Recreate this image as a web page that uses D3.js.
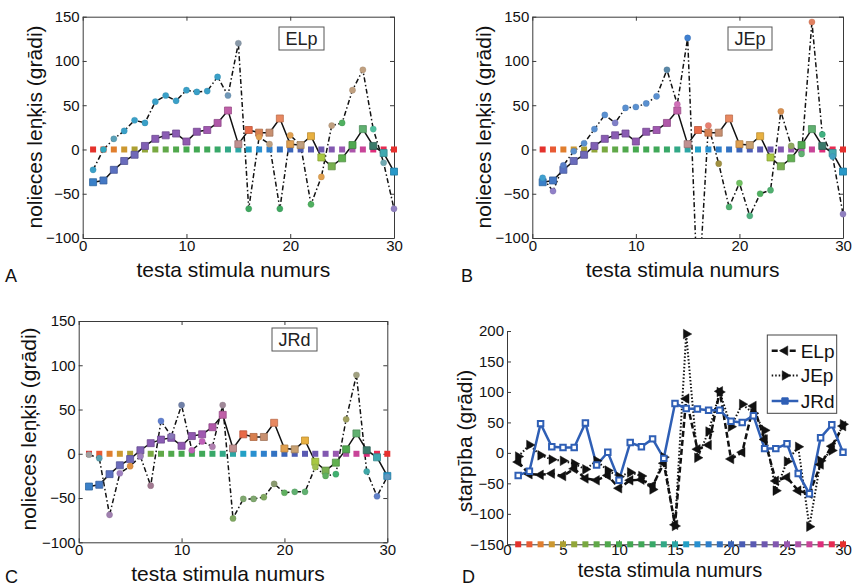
<!DOCTYPE html>
<html>
<head>
<meta charset="utf-8">
<script src="https://cdn.jsdelivr.net/npm/d3@7"></script>
<style>
  body { margin: 0; background: #fff; }
  svg { display: block; }
  text { font-family: "Liberation Sans", Arial, Helvetica, sans-serif; }
</style>
</head>
<body>
<svg></svg>
<script>
// stimulus numbers 1..30
const stimuli = [1,2,3,4,5,6,7,8,9,10,11,12,13,14,15,16,17,18,19,20,21,22,23,24,25,26,27,28,29,30];

// colour strip drawn along the zero / bottom line
const stripColors = ["#e4322c","#e85a34","#e07e2e","#cc9830","#aca032","#92a63a","#78a840","#60a848","#50a84c","#46a84e",
  "#42a852","#40a858","#38a868","#32a886","#2ca6a4","#22a0c6","#2890d0","#2e80cc","#3272c2","#3a64b8",
  "#4a5cb4","#5a5ab2","#6e58b0","#8258b0","#9858b0","#ac54aa","#c84498","#de2c7a","#e62c52","#e6302e"];

// reference angles (solid line, squares) - same in A, B, C
const refValues = [-37,-35,-23,-13,-6,4,12,16,18,9,20,22,30,44,6,22,19,19,35,6,5,15,-9,-19,-10,5,23,4,-4,-25];
const refColors = ["#3a80c8","#4478c4","#5a70c0","#6a6cbc","#7068b8","#8060b4","#8a5cb4","#8a5cb4","#8a5cb4","#9058b0",
  "#9058b0","#a058b0","#b058a8","#c060a8","#c09090","#e86a48","#d88050","#c89070","#e88860","#e0a050",
  "#c8a070","#e8b040","#a8c840","#78b050","#60b050","#50a850","#60b070","#3a7a6a","#40a8b0","#2898c8"];

// subject answers (dash-dot line, circles)
const elpValues = [-23,0,12,21,33,30,54,61,55,67,65,66,82,61,120,-67,14,6,-67,16,5,-62,-31,27,30,67,90,23,-15,-67];
const elpColors = ["#3aa0c8","#30a8c0","#5aa0b8","#3aa0c8","#3aa0c8","#3aa0c8","#3aa0c8","#3aa0c8","#3aa0c8","#3aa0c8",
  "#3aa0c8","#3aa0c8","#3aa0c8","#7098b8","#8898a8","#40a860","#e0a050","#c0a080","#40a860","#e0a050",
  "#c0a080","#50b060","#e0a050","#c0a080","#50b060","#c0a080","#c0a080","#50c0a0","#70a8b0","#9080c0"];

const jepValues = [-32,-47,-18,-2,7,23,39,30,47,48,52,60,90,51,126,-173,27,-16,-65,-38,-75,-50,-46,43,4,-5,144,17,-8,-73];
const jepColors = ["#40a0d0","#9080c8","#5a80c8","#5a90d0","#5a90d0","#5a90d0","#5a90d0","#8080c8","#5a90d0","#5a90d0",
  "#5a90d0","#5a90d0","#5a88a8","#d070b8","#4080d0","#50b070","#e88070","#a09040","#50b070","#70c060",
  "#50b080","#50b060","#50b070","#d89050","#90a860","#60b070","#e08060","#40b080","#40a0c0","#9080c0"];

const jrdValues = [-1,-5,-69,-22,-14,-3,-36,37,20,55,4,14,8,55,-73,-51,-51,-49,-34,-44,-43,-43,-15,-25,-23,39,89,-20,-48,-26];
const jrdColors = ["#a0a0a0","#5aa0b0","#a080b0","#a080c0","#e09040","#a080c0","#a07890","#6080d0","#8878b8","#7080a8",
  "#c060b8","#c060b8","#b080b0","#a08898","#80a860","#80a870","#80a870","#80a860","#8a9a70","#60b060",
  "#60b070","#60b070","#a0c050","#60b060","#40b070","#a0a060","#a0a080","#40a8a8","#6080c8","#6098c0"];

// panel D: differences (starpība)
const diffELp = [-15,-35,-36,-34,-38,-26,-42,-45,-37,-58,-45,-44,-54,-17,-118,89,6,13,101,-10,1,77,22,-46,-40,-62,-67,-19,11,44];
const diffJEp = [-6,13,-4,-11,-13,-18,-27,-13,-29,-39,-32,-38,-60,-7,-120,195,-8,35,100,43,80,65,37,-62,-14,10,-121,-13,4,47];
const diffJRd = [-37,-30,48,10,9,9,49,-20,1,-45,17,10,23,-9,81,73,72,70,70,52,50,61,7,7,15,-34,-67,25,46,1];

const svg = d3.select("svg").attr("width", 855).attr("height", 587);
svg.append("rect").attr("width", 855).attr("height", 587).attr("fill", "#fff");
const defs = svg.append("defs");

const axisColor = "#3a3a3a";

function makePanel(p) {
  const x = d3.scaleLinear().domain([0, 30]).range([p.left, p.right]);
  const y = d3.scaleLinear().domain(p.yDomain).range([p.bottom, p.top]);

  defs.append("clipPath").attr("id", "clip" + p.id).append("rect")
    .attr("x", p.left).attr("y", p.top).attr("width", p.right - p.left).attr("height", p.bottom - p.top);
  defs.append("clipPath").attr("id", "mclip" + p.id).append("rect")
    .attr("x", p.left - 6).attr("y", p.top - 6).attr("width", p.right - p.left + 12).attr("height", p.bottom - p.top + 12);

  const style = g => {
    g.select(".domain").attr("stroke", axisColor);
    g.selectAll(".tick line").attr("stroke", axisColor);
    g.selectAll("text").attr("font-size", 15).attr("fill", "#111")
      .attr("font-family", "'Liberation Sans', Arial, Helvetica, sans-serif");
  };

  svg.append("g").attr("transform", `translate(0,${p.bottom})`)
    .call(d3.axisBottom(x).tickValues(p.xTicks).tickSize(-4).tickSizeOuter(0).tickPadding(p.xPad))
    .call(style);
  svg.append("g").attr("transform", `translate(${p.left},0)`)
    .call(d3.axisLeft(y).tickValues(p.yTicks).tickSize(-4).tickSizeOuter(0).tickPadding(3))
    .call(style);

  if (p.box) {
    svg.append("g").attr("transform", `translate(0,${p.top})`)
      .call(d3.axisTop(x).tickValues(p.xTicks).tickSize(-4).tickSizeOuter(0).tickFormat(""))
      .call(style);
    svg.append("g").attr("transform", `translate(${p.right},0)`)
      .call(d3.axisRight(y).tickValues(p.yTicks).tickSize(-4).tickSizeOuter(0).tickFormat(""))
      .call(style);
  }

  // axis titles
  svg.append("text")
    .attr("x", (p.left + p.right) / 2 - 5)
    .attr("y", p.bottom + p.xLabelDy)
    .attr("text-anchor", "middle")
    .attr("font-size", p.xLabelSize)
    .attr("fill", "#111")
    .text("testa stimula numurs");

  svg.append("text")
    .attr("transform", `translate(${p.left - p.yLabelDx},${p.yLabelY}) rotate(-90)`)
    .attr("text-anchor", "middle")
    .attr("font-size", 21)
    .attr("fill", "#111")
    .text(p.yLabel);

  // panel letter
  svg.append("text")
    .attr("x", p.letterX).attr("y", p.letterY)
    .attr("font-family", "'Liberation Serif', 'Times New Roman', serif")
    .attr("font-size", 18)
    .attr("fill", "#111")
    .text(p.id);

  const lines = svg.append("g").attr("clip-path", `url(#clip${p.id})`);
  const marks = svg.append("g").attr("clip-path", `url(#mclip${p.id})`);
  return { x, y, lines, marks };
}

function strip(panel, yValue) {
  panel.marks.selectAll(null)
    .data(stimuli)
    .enter().append("rect")
    .attr("x", d => panel.x(d) - 3)
    .attr("y", panel.y(yValue) - 3)
    .attr("width", 6).attr("height", 6)
    .attr("fill", (d, i) => stripColors[i]);
}

function drawSeries(panel, values, colors, opts) {
  const pts = stimuli.map((s, i) => ({ s, v: values[i], c: colors ? colors[i] : opts.color }));
  const line = d3.line().x(d => panel.x(d.s)).y(d => panel.y(d.v));
  panel.lines.append("path")
    .datum(pts)
    .attr("d", line)
    .attr("fill", "none")
    .attr("stroke", opts.stroke)
    .attr("stroke-width", opts.width)
    .attr("stroke-dasharray", opts.dash || null);

  const sym = d3.symbol().type(opts.symbol).size(opts.size);
  panel.marks.selectAll(null)
    .data(pts)
    .enter().append("path")
    .attr("d", sym)
    .attr("transform", d => `translate(${panel.x(d.s)},${panel.y(d.v)}) rotate(${opts.rotate || 0})`)
    .attr("fill", d => opts.fill || d.c)
    .attr("stroke", d => opts.edge || d3.color(d.c).darker(0.6))
    .attr("stroke-width", opts.edgeWidth || 0.6);
}

function nameBox(x, y, w, h, label) {
  svg.append("rect").attr("x", x).attr("y", y).attr("width", w).attr("height", h)
    .attr("fill", "#fff").attr("stroke", "#555").attr("stroke-width", 1);
  svg.append("text").attr("x", x + w / 2).attr("y", y + h / 2).attr("dy", "0.35em")
    .attr("text-anchor", "middle")
    .attr("font-family", "'Liberation Serif', 'Times New Roman', serif")
    .attr("font-size", 18).attr("fill", "#222")
    .text(label);
}

const angleTicks = [-100, -50, 0, 50, 100, 150];
const tenTicks = [0, 10, 20, 30];

const panelDefs = [
  { id: "A", left: 82.7, right: 394, top: 16.7, bottom: 238, values: elpValues, colors: elpColors, name: "ELp",
    box: [279, 27, 45, 23], letterX: 5, letterY: 282, yLabelY: 127, yLabelDx: 41 },
  { id: "B", left: 532.3, right: 843, top: 16.7, bottom: 238, values: jepValues, colors: jepColors, name: "JEp",
    box: [728, 27, 44, 23], letterX: 461, letterY: 282, yLabelY: 127, yLabelDx: 41 },
  { id: "C", left: 78.7, right: 387.3, top: 321, bottom: 542.3, values: jrdValues, colors: jrdColors, name: "JRd",
    box: [272, 328, 45, 23], letterX: 5, letterY: 583, yLabelY: 429, yLabelDx: 42.5 }
];

const dashDot = "5,2.5,1.5,2.5";

panelDefs.forEach(p => {
  const panel = makePanel({
    id: p.id, left: p.left, right: p.right, top: p.top, bottom: p.bottom,
    yDomain: [-100, 150], yTicks: angleTicks, xTicks: tenTicks, box: true, xPad: 2,
    xLabelDy: 39, xLabelSize: 21, yLabelDx: p.yLabelDx, yLabelY: p.yLabelY, yLabel: "nolieces leņķis (grādi)",
    letterX: p.letterX, letterY: p.letterY
  });
  strip(panel, 0);
  drawSeries(panel, refValues, refColors, { stroke: "#111", width: 1.5, symbol: d3.symbolSquare, size: 49, edgeWidth: 0.8 });
  drawSeries(panel, p.values, p.colors, { stroke: "#111", width: 1.5, dash: dashDot, symbol: d3.symbolCircle, size: 30, edgeWidth: 0.3 });
  nameBox(...p.box, p.name);
});

// panel D
const pD = makePanel({
  id: "D", left: 507, right: 843, top: 331, bottom: 544.3,
  yDomain: [-150, 200], yTicks: [-150, -100, -50, 0, 50, 100, 150, 200], xTicks: [0, 5, 10, 15, 20, 25, 30], box: false, xPad: 0,
  xLabelDy: 33, xLabelSize: 20, yLabelDx: 35.5, yLabelY: 441, yLabel: "starpība (grādi)",
  letterX: 462, letterY: 583
});
strip(pD, -150);

const blue = "#2f5fb5";
const dSeries = [
  { name: "ELp", values: diffELp, opts: { color: "#111", stroke: "#111", width: 2.5, dash: "6,3", symbol: d3.symbolTriangle, rotate: -90, size: 40, fill: "#111", edge: "#111", edgeWidth: 0.5 } },
  { name: "JEp", values: diffJEp, opts: { color: "#111", stroke: "#111", width: 2, dash: "1.5,2", symbol: d3.symbolTriangle, rotate: 90, size: 40, fill: "#111", edge: "#111", edgeWidth: 0.5 } },
  { name: "JRd", values: diffJRd, opts: { color: blue, stroke: blue, width: 2.5, symbol: d3.symbolSquare, size: 30, fill: "#fff", edge: blue, edgeWidth: 2 } }
];
dSeries.forEach(s => drawSeries(pD, s.values, null, s.opts));

// legend
const lg = svg.append("g");
lg.append("rect").attr("x", 767.3).attr("y", 335).attr("width", 69.4).attr("height", 78.3)
  .attr("fill", "#fff").attr("stroke", "#444").attr("stroke-width", 1);
const legendY = [350.7, 375.5, 401];
dSeries.forEach((s, i) => {
  const yy = legendY[i];
  lg.append("line").attr("x1", 771.7).attr("x2", 798.3).attr("y1", yy).attr("y2", yy)
    .attr("stroke", s.opts.stroke).attr("stroke-width", s.opts.width).attr("stroke-dasharray", s.opts.dash || null);
  lg.append("path")
    .attr("d", d3.symbol().type(s.opts.symbol).size(s.name === "JRd" ? 40 : s.opts.size))
    .attr("transform", `translate(785,${yy}) rotate(${s.opts.rotate || 0})`)
    .attr("fill", s.name === "JRd" ? blue : s.opts.fill)
    .attr("stroke", s.opts.edge).attr("stroke-width", s.name === "JRd" ? 1 : 0.5);
  lg.append("text").attr("x", 800.7).attr("y", yy).attr("dy", "0.36em")
    .attr("font-size", 19).attr("fill", "#111").text(s.name);
});
</script>
</body>
</html>
